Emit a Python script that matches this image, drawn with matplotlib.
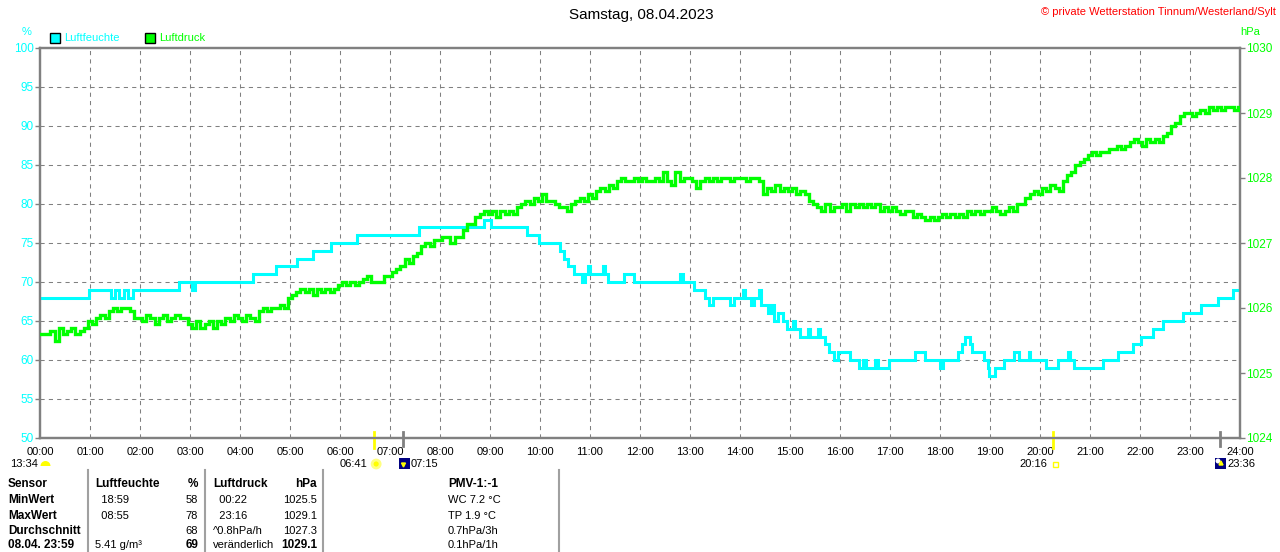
import matplotlib
matplotlib.use("Agg")
import matplotlib.pyplot as plt
from matplotlib.patches import Rectangle, Circle, Polygon, Wedge
from matplotlib.lines import Line2D
from matplotlib.transforms import IdentityTransform

plt.rcParams['font.family'] = ['Liberation Sans', 'DejaVu Sans']

W, H = 1280, 552
CYAN = '#00ffff'
GREEN = '#00ff00'
GRAY = '#808080'

# --- data -------------------------------------------------------------
# Luftfeuchte: step changes (hour of day, %)
hum_t = [0.0, 0.97, 1.42, 1.50, 1.58, 1.68, 1.75, 1.85, 2.77, 3.03, 3.10,
         4.27, 4.72, 5.13, 5.45, 5.81, 6.33, 7.57, 8.88, 9.02, 9.73, 9.97,
         10.40, 10.48, 10.55, 10.67, 10.83, 10.90, 10.95, 11.00, 11.25, 11.30,
         11.35, 11.67, 11.87, 12.80, 12.85, 13.07, 13.30, 13.38, 13.45, 13.80,
         13.87, 14.05, 14.10, 14.22, 14.28, 14.37, 14.42, 14.55, 14.62, 14.68,
         14.75, 14.85, 14.93, 15.05, 15.10, 15.20, 15.35, 15.40, 15.55, 15.60,
         15.70, 15.78, 15.88, 15.95, 16.20, 16.38, 16.45, 16.52, 16.70, 16.75,
         16.97, 17.50, 17.70, 18.00, 18.05, 18.35, 18.43, 18.50, 18.60, 18.65,
         18.87, 18.95, 18.98, 19.10, 19.28, 19.48, 19.58, 19.77, 19.80, 20.12,
         20.35, 20.55, 20.60, 20.68, 21.25, 21.55, 21.85, 22.02, 22.25, 22.45,
         22.85, 23.22, 23.55, 23.85, 24.0]
hum_v = [68, 69, 68, 69, 68, 69, 68, 69, 70, 69, 70,
         71, 72, 73, 74, 75, 76, 77, 78, 77, 76, 75,
         74, 73, 72, 71, 70, 71, 72, 71, 72, 71,
         70, 71, 70, 71, 70, 69, 68, 67, 68, 67,
         68, 69, 68, 67, 68, 69, 67, 66, 67, 65,
         66, 65, 64, 65, 64, 63, 64, 63, 64, 63,
         62, 61, 60, 61, 60, 59, 60, 59, 60, 59,
         60, 61, 60, 59, 60, 61, 62, 63, 62, 61,
         60, 59, 58, 59, 60, 61, 60, 61, 60, 59,
         60, 61, 60, 59, 60, 61, 62, 63, 64, 65,
         66, 67, 68, 69, 69]

# Luftdruck: readings every 5 minutes, one row per hour (hPa)
press_h00 = [1025.6, 1025.6, 1025.6, 1025.65, 1025.5, 1025.7, 1025.6, 1025.65, 1025.7, 1025.6, 1025.65, 1025.7]
press_h01 = [1025.8, 1025.75, 1025.85, 1025.9, 1025.85, 1025.95, 1026.0, 1025.95, 1026.0, 1026.0, 1025.95, 1025.85]
press_h02 = [1025.85, 1025.8, 1025.9, 1025.85, 1025.75, 1025.85, 1025.9, 1025.8, 1025.85, 1025.9, 1025.85, 1025.85]
press_h03 = [1025.75, 1025.7, 1025.8, 1025.7, 1025.75, 1025.8, 1025.7, 1025.8, 1025.75, 1025.85, 1025.8, 1025.9]
press_h04 = [1025.85, 1025.8, 1025.9, 1025.85, 1025.8, 1025.95, 1026.0, 1025.95, 1026.0, 1026.0, 1026.05, 1026.0]
press_h05 = [1026.15, 1026.2, 1026.25, 1026.3, 1026.25, 1026.3, 1026.2, 1026.3, 1026.25, 1026.3, 1026.25, 1026.3]
press_h06 = [1026.35, 1026.4, 1026.35, 1026.4, 1026.35, 1026.4, 1026.45, 1026.5, 1026.4, 1026.4, 1026.4, 1026.5]
press_h07 = [1026.5, 1026.55, 1026.6, 1026.65, 1026.75, 1026.7, 1026.8, 1026.85, 1026.95, 1027.0, 1026.95, 1027.05]
press_h08 = [1027.05, 1027.1, 1027.1, 1027.0, 1027.1, 1027.1, 1027.2, 1027.3, 1027.3, 1027.4, 1027.45, 1027.5]
press_h09 = [1027.45, 1027.5, 1027.4, 1027.5, 1027.45, 1027.5, 1027.45, 1027.55, 1027.6, 1027.65, 1027.6, 1027.7]
press_h10 = [1027.65, 1027.75, 1027.65, 1027.65, 1027.6, 1027.55, 1027.55, 1027.5, 1027.6, 1027.65, 1027.7, 1027.65]
press_h11 = [1027.75, 1027.7, 1027.8, 1027.85, 1027.8, 1027.9, 1027.85, 1027.95, 1028.0, 1027.95, 1027.95, 1028.0]
press_h12 = [1027.95, 1028.0, 1027.95, 1027.95, 1028.0, 1027.95, 1028.1, 1027.95, 1027.9, 1028.1, 1027.95, 1028.0]
press_h13 = [1028.0, 1027.95, 1027.85, 1027.95, 1028.0, 1027.95, 1028.0, 1027.95, 1028.0, 1028.0, 1027.95, 1028.0]
press_h14 = [1028.0, 1028.0, 1027.95, 1028.0, 1028.0, 1027.95, 1027.75, 1027.85, 1027.8, 1027.9, 1027.8, 1027.85]
press_h15 = [1027.8, 1027.85, 1027.75, 1027.8, 1027.75, 1027.65, 1027.6, 1027.55, 1027.5, 1027.6, 1027.5, 1027.55]
press_h16 = [1027.55, 1027.6, 1027.5, 1027.6, 1027.55, 1027.6, 1027.55, 1027.6, 1027.55, 1027.6, 1027.5, 1027.55]
press_h17 = [1027.5, 1027.55, 1027.5, 1027.45, 1027.5, 1027.5, 1027.4, 1027.45, 1027.4, 1027.35, 1027.4, 1027.35]
press_h18 = [1027.4, 1027.45, 1027.4, 1027.45, 1027.4, 1027.45, 1027.4, 1027.5, 1027.45, 1027.5, 1027.45, 1027.5]
press_h19 = [1027.5, 1027.55, 1027.5, 1027.45, 1027.5, 1027.55, 1027.5, 1027.6, 1027.6, 1027.7, 1027.75, 1027.8]
press_h20 = [1027.75, 1027.85, 1027.8, 1027.9, 1027.85, 1027.8, 1027.95, 1028.05, 1028.1, 1028.2, 1028.25, 1028.3]
press_h21 = [1028.35, 1028.4, 1028.35, 1028.4, 1028.4, 1028.45, 1028.45, 1028.5, 1028.45, 1028.5, 1028.55, 1028.6]
press_h22 = [1028.55, 1028.5, 1028.6, 1028.55, 1028.6, 1028.55, 1028.65, 1028.7, 1028.8, 1028.85, 1028.95, 1029.0]
press_h23 = [1029.0, 1028.95, 1029.0, 1029.05, 1029.0, 1029.1, 1029.05, 1029.1, 1029.05, 1029.1, 1029.1, 1029.05]
press_end = [1029.1]

hum_ticks = [50, 55, 60, 65, 70, 75, 80, 85, 90, 95, 100]
press_ticks = [1024, 1025, 1026, 1027, 1028, 1029, 1030]
hour_labels = ['%02d:00' % h for h in range(25)]

title = 'Samstag, 08.04.2023'
copyright_text = '© private Wetterstation Tinnum/Westerland/Sylt'

# sun / moon events (hour of day)
sunrise, sunset = 6 + 41 / 60, 20 + 16 / 60
moonset, moonrise = 7 + 15 / 60, 23 + 36 / 60
daylight = '13:34'

# summary table
tbl_rows = ['Sensor', 'MinWert', 'MaxWert', 'Durchschnitt', '08.04. 23:59']
tbl_hum_info = ['Luftfeuchte', '  18:59', '  08:55', '', '5.41 g/m³']
tbl_hum_val = ['%', '58', '78', '68', '69']
tbl_prs_info = ['Luftdruck', '  00:22', '  23:16', '^0.8hPa/h', 'veränderlich']
tbl_prs_val = ['hPa', '1025.5', '1029.1', '1027.3', '1029.1']
tbl_extra = ['PMV-1:-1', 'WC 7.2 °C', 'TP 1.9 °C', '0.7hPa/3h', '0.1hPa/1h']

press = (press_h00 + press_h01 + press_h02 + press_h03 + press_h04 + press_h05 +
         press_h06 + press_h07 + press_h08 + press_h09 + press_h10 + press_h11 +
         press_h12 + press_h13 + press_h14 + press_h15 + press_h16 + press_h17 +
         press_h18 + press_h19 + press_h20 + press_h21 + press_h22 + press_h23 + press_end)
press_t = [i / 12 for i in range(len(press))]

# --- figure -------------------------------------------------------------
fig = plt.figure(figsize=(W / 100, H / 100), dpi=100)
ax = fig.add_axes([40 / W, 114 / H, 1200 / W, 390 / H])
ax2 = ax.twinx()


def px(x, y):
    return x / W, 1 - y / H


ax.set_xlim(0, 24)
ax.set_ylim(50, 100)
ax2.set_ylim(1024, 1030)

for h in range(1, 24):
    ax.axvline(h, color=GRAY, lw=0.75, ls=(0, (4, 4)), zorder=1)
for v in hum_ticks[1:-1]:
    ax.axhline(v, color=GRAY, lw=0.75, ls=(0, (4, 4)), zorder=1)

ax.plot(hum_t, hum_v, color=CYAN, lw=2.2, drawstyle='steps-post', zorder=3,
        solid_joinstyle='miter')
ax2.plot(press_t, press, color=GREEN, lw=2.4, drawstyle='steps-mid', zorder=3,
         solid_joinstyle='miter')

for a in (ax, ax2):
    for s in a.spines.values():
        s.set_color(GRAY)
        s.set_linewidth(1.6)

ax.set_yticks(hum_ticks)
ax.set_yticklabels([str(v) for v in hum_ticks])
ax.tick_params(axis='y', colors=GRAY, labelcolor=CYAN, length=3.6, width=1,
               pad=1, labelsize=8.5)
ax2.set_yticks(press_ticks)
ax2.set_yticklabels([str(v) for v in press_ticks])
ax2.tick_params(axis='y', colors=GRAY, labelcolor=GREEN, length=3.6, width=1,
                pad=1, labelsize=8.5)
ax.set_xticks(range(25))
ax.set_xticklabels(hour_labels)
ax.tick_params(axis='x', length=0, pad=6.5, labelsize=8, labelcolor='black')

# sun / moon ticks on the time axis
for t, c in [(sunrise, '#ffff00'), (sunset, '#ffff00')]:
    ax.plot([t, t], [50.8, 48.7], color=c, lw=2, clip_on=False, zorder=5)
for t in (moonset, moonrise):
    ax.plot([t, t], [50.8, 49.0], color=GRAY, lw=2, clip_on=False, zorder=5)

# texts on top
fig.text(*px(641, 15), title, ha='center', va='center', fontsize=11)
fig.text(*px(1276, 12), copyright_text, ha='right', va='center', fontsize=8,
         color='red')
fig.text(*px(27, 32), '%', ha='center', va='center', fontsize=8, color=CYAN)
fig.text(*px(1250, 32), 'hPa', ha='center', va='center', fontsize=8, color=GREEN)

ident = IdentityTransform()
for x0, col, label in [(50, CYAN, 'Luftfeuchte'), (145, GREEN, 'Luftdruck')]:
    fig.add_artist(Rectangle((x0, H - 43), 10, 10, facecolor=col,
                             edgecolor='black', lw=1, transform=ident))
    fig.text(*px(x0 + 14, 38), label, ha='left', va='center', fontsize=8,
             color=col)


def xpix(t):
    return ax.transData.transform((t, 50))[0]


# sun / moon icons below the time labels
yc = H - 464
fig.text(*px(10, 464), daylight, ha='left', va='center', fontsize=8)
fig.add_artist(Wedge((45.5, yc - 2), 5, 0, 180, facecolor='#ffff00',
                     edgecolor='none', transform=ident))

xs = xpix(sunrise)
fig.text(xs - 7, yc, '%02d:%02d' % (6, 41), ha='right', va='center', fontsize=8,
         transform=ident)
fig.add_artist(Circle((xs + 2, yc), 4, facecolor='#ffff00', edgecolor='#ffff80',
                      lw=2, transform=ident))

xm = xpix(moonset)
fig.add_artist(Rectangle((xm - 4, yc - 5), 11, 11, facecolor='#000080',
                         edgecolor='none', transform=ident))
fig.add_artist(Polygon([(xm - 1, yc + 1), (xm + 3, yc + 1), (xm + 1, yc - 3)],
                       facecolor='#ffff00', edgecolor='#ffff00', transform=ident))
fig.text(xm + 8, yc, '07:15', ha='left', va='center', fontsize=8,
         transform=ident)

xss = xpix(sunset)
fig.text(xss - 6, yc, '20:16', ha='right', va='center', fontsize=8,
         transform=ident)
fig.add_artist(Rectangle((xss - 0.5, yc - 3), 5, 5, facecolor='white',
                         edgecolor='#ffff00', lw=1, transform=ident))

xmr = xpix(moonrise)
fig.add_artist(Rectangle((xmr - 5, yc - 5), 11, 11, facecolor='#000080',
                         edgecolor='none', transform=ident))
fig.add_artist(Circle((xmr - 2, yc + 3), 2.5, facecolor='white',
                      edgecolor='none', transform=ident))
fig.add_artist(Polygon([(xmr - 1, yc - 1), (xmr + 3, yc - 1), (xmr + 1, yc + 3)],
                       facecolor='#ffff00', edgecolor='#ffff00', transform=ident))
fig.text(xmr + 7, yc, '23:36', ha='left', va='center', fontsize=8,
         transform=ident)

# summary table
for xl in (88, 205, 323, 559):
    fig.add_artist(Line2D([xl, xl], [0, H - 470], color='#a0a0a0', lw=1.5,
                          transform=ident))

row_y = [484, 500, 516, 531, 545]
for i, y in enumerate(row_y):
    head = i == 0
    last = i == len(row_y) - 1
    fig.text(*px(8, y), tbl_rows[i], ha='left', va='center', fontsize=8.5,
             fontweight='bold')
    fig.text(*px(95, y), tbl_hum_info[i], ha='left', va='center',
             fontsize=8.5 if head else 8, fontweight='bold' if head else 'normal')
    fig.text(*px(198, y), tbl_hum_val[i], ha='right', va='center',
             fontsize=8.5 if (head or last) else 8,
             fontweight='bold' if (head or last) else 'normal')
    fig.text(*px(213, y), tbl_prs_info[i], ha='left', va='center',
             fontsize=8.5 if head else 8, fontweight='bold' if head else 'normal')
    fig.text(*px(317, y), tbl_prs_val[i], ha='right', va='center',
             fontsize=8.5 if (head or last) else 8,
             fontweight='bold' if (head or last) else 'normal')
    fig.text(*px(448, y), tbl_extra[i], ha='left', va='center',
             fontsize=8.5 if head else 8, fontweight='bold' if head else 'normal')

fig.savefig('out.png', dpi=100)
